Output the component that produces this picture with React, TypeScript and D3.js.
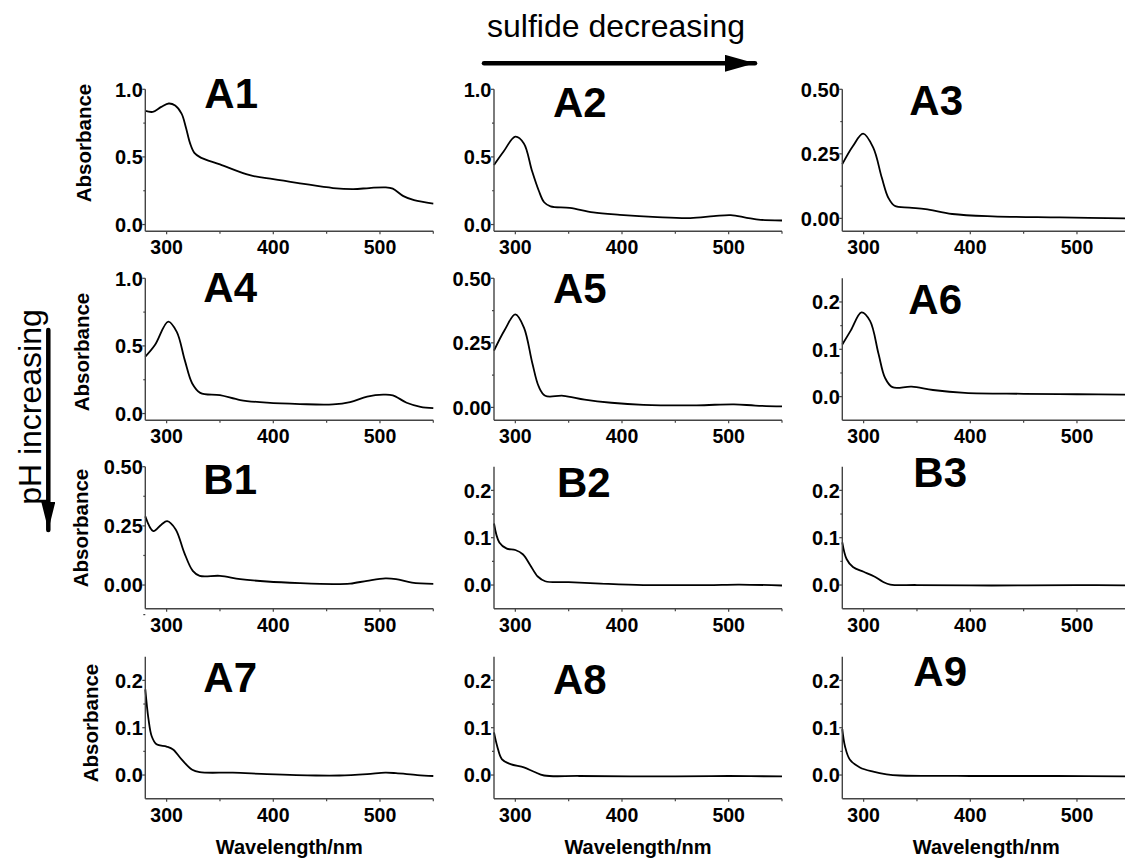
import React from "react";
import * as d3 from "d3";

// ---------- data (wavelength nm, absorbance) ----------
const A1: [number, number][] = [
  [280, 0.84], [287, 0.833], [295, 0.87], [302, 0.895], [308, 0.88], [314, 0.82], [318, 0.72],
  [322, 0.6], [326, 0.53], [332, 0.495], [350, 0.445], [378, 0.365], [400, 0.335], [425, 0.305],
  [456, 0.27], [475, 0.262], [490, 0.27], [505, 0.275], [512, 0.265], [522, 0.21], [532, 0.18], [550, 0.155],
];
const A2: [number, number][] = [
  [280, 0.44], [289, 0.54], [300, 0.65], [308, 0.6], [315.5, 0.4], [322, 0.25], [327, 0.165],
  [333, 0.135], [351, 0.124], [373, 0.09], [398, 0.072], [433, 0.055], [464, 0.048], [486, 0.062],
  [502, 0.07], [517, 0.05], [530, 0.035], [550, 0.03],
];
const A3: [number, number][] = [
  [280, 0.21], [290, 0.28], [299.5, 0.328], [309, 0.274], [317, 0.158], [323, 0.081], [329, 0.049],
  [343, 0.042], [358, 0.036], [383, 0.017], [421, 0.008], [484, 0.004], [550, 0.0],
];
const A4: [number, number][] = [
  [280, 0.42], [289, 0.506], [301.5, 0.68], [309.5, 0.604], [317, 0.395], [324, 0.222], [331.5, 0.153],
  [350, 0.136], [369, 0.1], [394, 0.08], [425, 0.07], [456, 0.068], [472, 0.085], [488, 0.125],
  [503, 0.14], [512, 0.135], [525, 0.08], [538, 0.05], [550, 0.04],
];
const A5: [number, number][] = [
  [280, 0.22], [290, 0.3], [300, 0.36], [308, 0.31], [316, 0.17], [322, 0.08], [328, 0.045],
  [345, 0.045], [365, 0.03], [390, 0.018], [420, 0.01], [470, 0.008], [505, 0.012], [525, 0.007], [550, 0.004],
];
const A6: [number, number][] = [
  [280, 0.11], [288, 0.14], [298, 0.178], [306, 0.16], [314, 0.09], [320, 0.04], [327, 0.02],
  [345, 0.021], [365, 0.014], [395, 0.008], [450, 0.006], [500, 0.005], [550, 0.004],
];
const B1: [number, number][] = [
  [280, 0.29], [287.5, 0.228], [295, 0.255], [300.5, 0.27], [308.5, 0.235], [316.5, 0.137], [324.5, 0.06],
  [331, 0.039], [350, 0.039], [369, 0.025], [394, 0.015], [425, 0.008], [456, 0.004], [472, 0.006],
  [488, 0.018], [505, 0.028], [515, 0.025], [530, 0.01], [550, 0.005],
];
const B2: [number, number][] = [
  [280, 0.13], [285, 0.09], [292, 0.077], [300, 0.074], [307, 0.065], [314, 0.042], [321, 0.018],
  [328, 0.008], [350, 0.006], [380, 0.003], [420, 0.0], [480, 0.0], [510, 0.001], [550, -0.001],
];
const B3: [number, number][] = [
  [280, 0.09], [284, 0.055], [290, 0.038], [300, 0.028], [310, 0.018], [318, 0.007], [325, 0.001],
  [350, 0.0], [420, -0.001], [500, 0.0], [550, -0.001],
];
const A7: [number, number][] = [
  [280, 0.181], [283, 0.118], [286, 0.082], [290.5, 0.065], [300, 0.06], [306, 0.054], [314, 0.033],
  [324, 0.011], [331, 0.006], [362, 0.005], [394, 0.002], [440, -0.001], [462, -0.001], [488, 0.002],
  [505, 0.005], [515, 0.004], [535, 0.0], [550, -0.002],
];
const A8: [number, number][] = [
  [280, 0.09], [283, 0.061], [287.5, 0.033], [295.5, 0.023], [308, 0.016], [317.5, 0.007], [327, -0.001],
  [360, -0.002], [450, -0.003], [500, -0.002], [550, -0.003],
];
const A9: [number, number][] = [
  [280, 0.097], [282.5, 0.061], [287, 0.033], [296.5, 0.016], [309, 0.007], [321.5, 0.0015],
  [334, -0.001], [400, -0.002], [480, -0.002], [550, -0.003],
];

const panelNames = ["A1", "A2", "A3", "A4", "A5", "A6", "B1", "B2", "B3", "A7", "A8", "A9"];
const panelData = [A1, A2, A3, A4, A5, A6, B1, B2, B3, A7, A8, A9];

const yDomains: [number, number][] = [
  [-0.05, 1.0], [-0.05, 1.0], [-0.05, 0.5],
  [-0.05, 1.0], [-0.05, 0.5], [-0.05, 0.25],
  [-0.1, 0.5], [-0.05, 0.25], [-0.05, 0.25],
  [-0.05, 0.25], [-0.05, 0.25], [-0.05, 0.25],
];
const yMajorTicks: number[][] = [
  [0, 0.5, 1.0], [0, 0.5, 1.0], [0, 0.25, 0.5],
  [0, 0.5, 1.0], [0, 0.25, 0.5], [0, 0.1, 0.2],
  [0, 0.25, 0.5], [0, 0.1, 0.2], [0, 0.1, 0.2],
  [0, 0.1, 0.2], [0, 0.1, 0.2], [0, 0.1, 0.2],
];
const yMinorTicks: number[][] = [
  [0.25, 0.75], [0.25, 0.75], [0.125, 0.375],
  [0.25, 0.75], [0.125, 0.375], [0.05, 0.15],
  [-0.125, 0.125, 0.375], [0.05, 0.15], [0.05, 0.15],
  [0.05, 0.15], [0.05, 0.15], [0.05, 0.15],
];
const yFormats = [".1f", ".1f", ".2f", ".1f", ".2f", ".1f", ".2f", ".1f", ".1f", ".1f", ".1f", ".1f"];

const xDomain: [number, number] = [280, 550];
const xMajorTicks = [300, 400, 500];
const xMinorTicks = [350, 450, 550];

const yAxisTitle = "Absorbance";
const xAxisTitle = "Wavelength/nm";
const topNote = "sulfide decreasing";
const sideNote = "pH increasing";

// ---------- layout ----------
const W = 1125;
const H = 860;
const colLeft = [145.3, 494, 842.3];
const rowTop = [89.3, 278.3, 466.7, 656.7];
const PW = 288;
const PH = 142;
const titleOffset: [number, number][] = [
  [59, 19], [59, 28], [67, 26],
  [58, 24], [59, 25], [66, 36],
  [58, 27], [63, 30], [71, 20],
  [58, 35], [59, 37], [71, 29],
];
const absLabelPos: [number, number][] = [
  [90.5, 143], [89.3, 352], [88.3, 528], [98, 723],
];
const FONT = "'Liberation Sans', Arial, Helvetica, sans-serif";
const AXIS_COLOR = "#444";

function Panel({ idx }: { idx: number }) {
  const row = Math.floor(idx / 3);
  const col = idx % 3;
  const left = colLeft[col];
  const top = rowTop[row];
  const x = d3.scaleLinear().domain(xDomain).range([left, left + PW]);
  const y = d3.scaleLinear().domain(yDomains[idx]).range([top + PH, top]);
  const line = d3
    .line<[number, number]>()
    .x((d) => x(d[0]))
    .y((d) => y(d[1]))
    .curve(d3.curveCatmullRom.alpha(0.5));
  const fmt = d3.format(yFormats[idx]);
  const bottom = top + PH;
  const [tdx, tdy] = titleOffset[idx];
  return (
    <g>
      <path d={line(panelData[idx]) || ""} fill="none" stroke="#000" strokeWidth={1.8} strokeLinejoin="round" />
      {/* y axis */}
      <line x1={left} x2={left} y1={top} y2={bottom} stroke={AXIS_COLOR} strokeWidth={1.4} />
      {yMajorTicks[idx].map((t) => (
        <g key={"ym" + t}>
          <line x1={left - 3} x2={left} y1={y(t)} y2={y(t)} stroke={AXIS_COLOR} strokeWidth={1.2} />
          <text x={left - 2.5} y={y(t)} dy="0.36em" textAnchor="end" fontFamily={FONT} fontWeight="bold" fontSize={20} fill="#000">
            {fmt(t)}
          </text>
        </g>
      ))}
      {yMinorTicks[idx].map((t) => (
        <line key={"yn" + t} x1={left - 2} x2={left} y1={y(t)} y2={y(t)} stroke={AXIS_COLOR} strokeWidth={1.2} />
      ))}
      {/* x axis */}
      <line x1={left} x2={left + PW} y1={bottom} y2={bottom} stroke={AXIS_COLOR} strokeWidth={1.4} />
      {xMajorTicks.map((t) => (
        <g key={"xm" + t}>
          <line x1={x(t)} x2={x(t)} y1={bottom} y2={bottom + 3} stroke={AXIS_COLOR} strokeWidth={1.2} />
          <text x={x(t)} y={bottom + 23} textAnchor="middle" fontFamily={FONT} fontWeight="bold" fontSize={19.5} fill="#000">
            {t}
          </text>
        </g>
      ))}
      {xMinorTicks.map((t) => (
        <line key={"xn" + t} x1={x(t)} x2={x(t)} y1={bottom} y2={bottom + 2.5} stroke={AXIS_COLOR} strokeWidth={1.2} />
      ))}
      <text x={left + tdx} y={top + tdy} fontFamily={FONT} fontWeight="bold" fontSize={42} fill="#000">
        {panelNames[idx]}
      </text>
      {col === 0 && (
        <text
          transform={`translate(${absLabelPos[row][0]},${absLabelPos[row][1]}) rotate(-90)`}
          textAnchor="middle"
          fontFamily={FONT}
          fontWeight="bold"
          fontSize={20.5}
          fill="#000"
        >
          {yAxisTitle}
        </text>
      )}
      {row === 3 && (
        <text x={left + PW / 2} y={854} textAnchor="middle" fontFamily={FONT} fontWeight="bold" fontSize={20} fill="#000">
          {xAxisTitle}
        </text>
      )}
    </g>
  );
}

export default function App() {
  return (
    <svg
      width={W}
      height={H}
      viewBox={`0 0 ${W} ${H}`}
      style={{ position: "absolute", left: 0, top: 0, background: "#fff" }}
    >
      <rect x={0} y={0} width={W} height={H} fill="#fff" />
      <defs>
        <marker id="ah" markerUnits="userSpaceOnUse" viewBox="0 0 30 17" refX={30} refY={8.5} markerWidth={30} markerHeight={17} orient="auto">
          <path d="M0,0 L30,8.5 L0,17 Z" fill="#000" />
        </marker>
        <marker id="ahv" markerUnits="userSpaceOnUse" viewBox="0 0 28 14" refX={28} refY={7} markerWidth={28} markerHeight={14} orient="auto">
          <path d="M0,0 L28,7 L0,14 Z" fill="#000" />
        </marker>
      </defs>
      {panelNames.map((_, i) => (
        <Panel key={i} idx={i} />
      ))}
      <text x={616} y={37} textAnchor="middle" fontFamily={FONT} fontSize={32} fill="#000">
        {topNote}
      </text>
      <line x1={484} x2={755} y1={63.3} y2={63.3} stroke="#000" strokeWidth={4.5} strokeLinecap="round" markerEnd="url(#ah)" />
      <text
        transform="translate(41,407) rotate(-90)"
        textAnchor="middle"
        fontFamily={FONT}
        fontSize={32}
        fill="#000"
      >
        {sideNote}
      </text>
      <line x1={48.3} x2={48.3} y1={330} y2={530} stroke="#000" strokeWidth={4.5} strokeLinecap="round" markerEnd="url(#ahv)" />
    </svg>
  );
}
